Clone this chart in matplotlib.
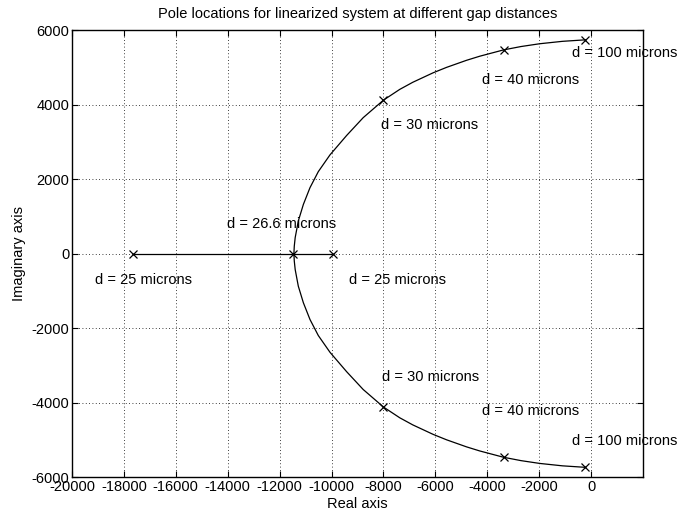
import matplotlib
matplotlib.use('Agg')
import matplotlib.pyplot as plt

plt.rcParams['font.family'] = ['Liberation Sans', 'DejaVu Sans']
plt.rcParams['axes.unicode_minus'] = False

# locus: real part and |imag| part (upper branch)
locus_re = [-11450, -11435, -11400, -11280, -11085, -10830, -10510, -10060,
            -9420, -8780, -8000, -7370, -6870, -6085, -5570, -4800,
            -4290, -3370, -2700, -1980, -1100, -220]
locus_im = [0, 200, 430, 875, 1320, 1770, 2200, 2650,
            3170, 3650, 4120, 4410, 4600, 4855, 5000, 5190,
            5300, 5470, 5560, 5635, 5700, 5740]

# pole markers
pole_re = [-8000, -3370, -220]
pole_im = [4120, 5470, 5740]
real_poles = [-17650, -11470, -9950]

labels = [
    (-750, 5380, 'd = 100 microns'),
    (-4210, 4670, 'd = 40 microns'),
    (-8100, 3450, 'd = 30 microns'),
    (-14040, 800, 'd = 26.6 microns'),
    (-19110, -700, 'd = 25 microns'),
    (-9310, -700, 'd = 25 microns'),
    (-8070, -3320, 'd = 30 microns'),
    (-4210, -4240, 'd = 40 microns'),
    (-750, -5030, 'd = 100 microns'),
]

fig = plt.figure(figsize=(6.83, 5.19), dpi=100)
ax = fig.add_axes([0.1054, 0.0809, 0.836, 0.861])

ax.plot(locus_re, locus_im, color='black', lw=0.9)
ax.plot(locus_re, [-v for v in locus_im], color='black', lw=0.9)
ax.plot(real_poles, [0] * len(real_poles), color='black', lw=0.9)
ax.plot(real_poles, [0] * len(real_poles), 'kx', ms=6, mew=0.9)
ax.plot(pole_re, pole_im, 'kx', ms=6, mew=0.9)
ax.plot(pole_re, [-v for v in pole_im], 'kx', ms=6, mew=0.9)

for x, y, s in labels:
    ax.text(x, y, s, ha='left', va='center', fontsize=10.5, clip_on=False)

ax.set_xlim(-20000, 2000)
ax.set_ylim(-6000, 6000)
ax.set_xticks(range(-20000, 1, 2000))
ax.set_yticks(range(-6000, 6001, 2000))
ax.tick_params(direction='in', top=True, right=True, labelsize=10.5, length=4, pad=2)
ax.grid(True, linestyle=(0, (1, 3)), color='black', lw=0.6)
for sp in ax.spines.values():
    sp.set_linewidth(1.0)

ax.set_title('Pole locations for linearized system at different gap distances',
             fontsize=10.5, pad=9)
ax.set_xlabel('Real axis', fontsize=10.5, labelpad=2)
ax.set_ylabel('Imaginary axis', fontsize=10.5, labelpad=4)

fig.savefig('out.png', dpi=100)
